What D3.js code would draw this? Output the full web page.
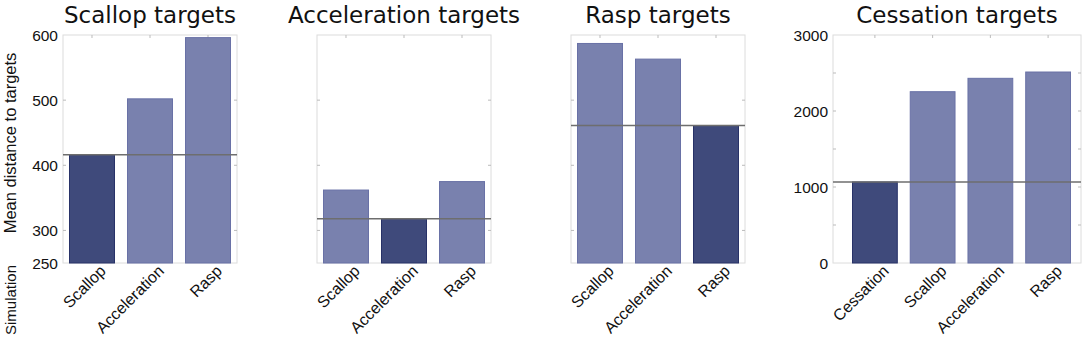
<!DOCTYPE html>
<html>
<head>
<meta charset="utf-8">
<script src="https://cdn.jsdelivr.net/npm/d3@7"></script>
<style>
  body { margin: 0; background: #fff; }
  text { font-family: "Liberation Sans", Arial, sans-serif; fill: #111; }
  .title { font-family: "DejaVu Sans", sans-serif; }
</style>
</head>
<body>
<div id="chart"></div>
<script>
  // values
  const titles = ["Scallop targets", "Acceleration targets", "Rasp targets", "Cessation targets"];
  const threeSims = ["Scallop", "Acceleration", "Rasp"];
  const cessationSims = ["Cessation", "Scallop", "Acceleration", "Rasp"];
  const scallopVals = [416, 502, 596];
  const accelerationVals = [362, 318, 375];
  const raspVals = [587, 563, 461];
  const cessationVals = [1066, 2254, 2430, 2513];
  const targetIndex = [0, 1, 2, 0];
  const distTicks = [300, 400, 500, 600];
  const distTickLabels = [250, 300, 400, 500, 600];
  const cessTicks = [0, 1000, 2000, 3000];
  const cessMinor = [500, 1500, 2500];

  const svg = d3.select("#chart").append("svg")
    .attr("width", 1084)
    .attr("height", 340);

  const plotTop = 35, plotBottom = 263;
  const darkFill = "#3f4a7b", darkStroke = "#283268";
  const lightFill = "#7981ae", lightStroke = "#6971a6";

  const panels = [
    { cats: threeSims, vals: scallopVals, frame: [63, 237], bars: [69, 231], domain: [250, 600], ticks: distTicks, labels: distTickLabels, minor: [] },
    { cats: threeSims, vals: accelerationVals, frame: [317, 491], bars: [323, 485], domain: [250, 600], ticks: distTicks, labels: null, minor: [] },
    { cats: threeSims, vals: raspVals, frame: [571, 745], bars: [577, 739], domain: [250, 600], ticks: distTicks, labels: null, minor: [] },
    { cats: cessationSims, vals: cessationVals, frame: [833, 1081], bars: [852, 1071], domain: [0, 3000], ticks: cessTicks, labels: cessTicks, minor: cessMinor }
  ];

  panels.forEach((p, i) => {
    const g = svg.append("g");
    const x = d3.scaleBand()
      .domain(p.cats)
      .range(p.bars)
      .paddingInner(0.207)
      .paddingOuter(0);
    const y = d3.scaleLinear()
      .domain(p.domain)
      .range([plotBottom, plotTop]);

    // frame
    g.append("rect")
      .attr("x", p.frame[0])
      .attr("y", plotTop)
      .attr("width", p.frame[1] - p.frame[0])
      .attr("height", plotBottom - plotTop)
      .attr("fill", "none")
      .attr("stroke", "#dcdcdc")
      .attr("stroke-width", 1);

    // small tick marks inside the frame
    const tickVals = p.ticks.concat(p.minor).filter(v => v > p.domain[0] && v < p.domain[1]);
    tickVals.forEach(v => {
      g.append("line").attr("x1", p.frame[0]).attr("x2", p.frame[0] + 3)
        .attr("y1", y(v)).attr("y2", y(v)).attr("stroke", "#bbb");
      g.append("line").attr("x1", p.frame[1]).attr("x2", p.frame[1] - 3)
        .attr("y1", y(v)).attr("y2", y(v)).attr("stroke", "#bbb");
    });
    p.cats.forEach(c => {
      const cx = x(c) + x.bandwidth() / 2;
      g.append("line").attr("x1", cx).attr("x2", cx)
        .attr("y1", plotTop).attr("y2", plotTop + 3).attr("stroke", "#bbb");
    });

    // bars
    g.selectAll("rect.bar")
      .data(p.vals)
      .join("rect")
      .attr("class", "bar")
      .attr("x", (d, j) => x(p.cats[j]) + 0.5)
      .attr("y", d => y(d))
      .attr("width", x.bandwidth() - 1)
      .attr("height", d => y(p.domain[0]) - y(d))
      .attr("fill", (d, j) => j === targetIndex[i] ? darkFill : lightFill)
      .attr("stroke", (d, j) => j === targetIndex[i] ? darkStroke : lightStroke)
      .attr("stroke-width", 1);

    // reference line at target's own value
    const ref = p.vals[targetIndex[i]];
    g.append("line")
      .attr("x1", p.frame[0])
      .attr("x2", p.frame[1])
      .attr("y1", y(ref))
      .attr("y2", y(ref))
      .attr("stroke", "#6e6e6e")
      .attr("stroke-width", 1.5);

    // y tick labels
    if (p.labels) {
      g.selectAll("text.ytick")
        .data(p.labels)
        .join("text")
        .attr("class", "ytick")
        .attr("x", p.frame[0] - 5)
        .attr("y", d => y(d))
        .attr("dy", "0.36em")
        .attr("text-anchor", "end")
        .style("font-size", "15.5px")
        .text(d => d);
    }

    // x labels, rotated
    g.selectAll("text.xlab")
      .data(p.cats)
      .join("text")
      .attr("class", "xlab")
      .attr("transform", d => `translate(${x(d) + x.bandwidth() / 2 + 7},${plotBottom + 1}) rotate(-45)`)
      .attr("text-anchor", "end")
      .attr("dy", "0.7em")
      .style("font-size", "16px")
      .text(d => d);

    // title
    g.append("text")
      .attr("class", "title")
      .attr("x", (p.frame[0] + p.frame[1]) / 2)
      .attr("y", 23)
      .attr("text-anchor", "middle")
      .style("font-size", "23px")
      .text(titles[i]);
  });

  // y axis label
  svg.append("text")
    .attr("transform", "translate(16,143) rotate(-90)")
    .attr("text-anchor", "middle")
    .style("font-size", "16.5px")
    .text("Mean distance to targets");

  svg.append("text")
    .attr("transform", "translate(16,300) rotate(-90)")
    .attr("text-anchor", "middle")
    .style("font-size", "15px")
    .text("Simulation");
</script>
</body>
</html>
